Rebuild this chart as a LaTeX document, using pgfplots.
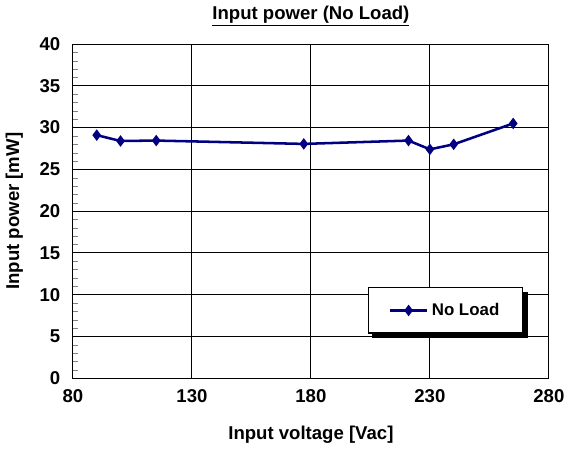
\documentclass[border=0pt]{standalone}
\usepackage{fontspec}
\setmainfont{Liberation Sans}
\usepackage{pgfplots}
\pgfplotsset{compat=1.18}
\definecolor{navy}{RGB}{0,0,128}
\newcommand{\lbl}{\bfseries\fontsize{11}{13}\selectfont}
\begin{document}
\begin{tikzpicture}
\begin{axis}[
  scale only axis,
  width=282pt, height=198pt,
  xmin=80, xmax=280, ymin=0, ymax=40,
  xtick={80,130,...,280},
  ytick={0,5,...,40},
  minor y tick num=4,
  tick align=inside,
  xtick pos=bottom, ytick pos=left,
  major tick length=0pt,
  minor tick length=3pt,
  grid=major,
  grid style={black, line width=0.6pt},
  axis line style={black, line width=0.6pt},
  /pgf/number format/assume math mode=true,
  tick label style={font=\lbl},
  xticklabel style={yshift=-3pt},
  yticklabel style={xshift=-4pt},
  title={\underline{Input power (No Load)}},
  title style={font=\lbl, yshift=1pt},
  xlabel={Input voltage [Vac]},
  ylabel={Input power [mW]},
  label style={font=\lbl},
  xlabel style={yshift=-7pt},
  ylabel style={yshift=3pt},
  legend style={name=leg, at={(0.62,0.272)}, anchor=north west,
    font=\bfseries\fontsize{10}{12}\selectfont,
    draw=black, line width=0.6pt, inner xsep=12pt, inner ysep=7pt},
  legend image code/.code={\draw[#1,mark repeat=2,mark phase=2]
    plot coordinates {(0pt,0pt)(11pt,0pt)(22pt,0pt)};},
]
\addplot[navy, line width=1.5pt, mark=diamond*, mark size=2.2pt,
  mark options={solid, fill=navy}]
  coordinates {
    (90,29.1) (100,28.4) (115,28.45) (177,28.05)
    (221,28.45) (230,27.4) (240,28.0) (265,30.5)
  };
\legend{No Load}
\end{axis}
% drop shadow of the legend box
\fill[black] ([xshift=2.5pt,yshift=-2.5pt]leg.south west) rectangle ([xshift=2.5pt]leg.south east);
\fill[black] ([yshift=-2.5pt]leg.north east) rectangle ([xshift=2.5pt,yshift=-2.5pt]leg.south east);
\end{tikzpicture}
\end{document}
